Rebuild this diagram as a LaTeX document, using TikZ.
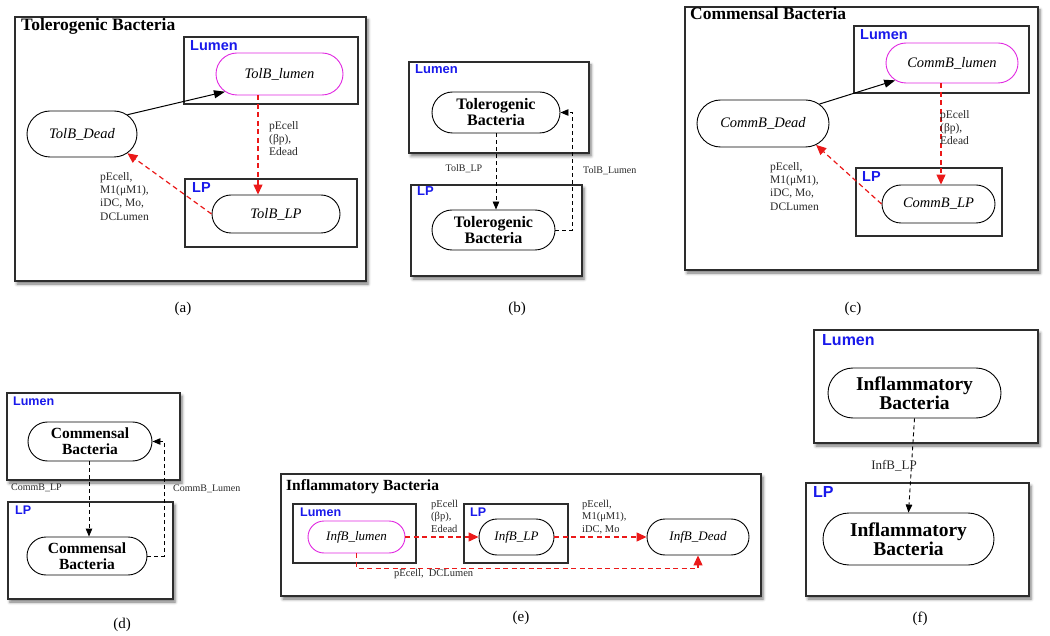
\documentclass[tikz,border=0pt]{standalone}
\usepackage{fontspec}
\setmainfont{Liberation Serif}
\newfontfamily\hsans{Liberation Sans}
\usetikzlibrary{shapes.misc,shadows.blur,arrows.meta,calc}
\definecolor{magnode}{RGB}{225,40,225}
\definecolor{redline}{RGB}{235,25,25}
\definecolor{bluelbl}{RGB}{25,25,235}
\definecolor{frameline}{RGB}{45,45,45}
\definecolor{lbltext}{RGB}{40,40,40}
\tikzset{
  panelbox/.style={draw=frameline, line width=1.4pt, fill=white,
    blur shadow={shadow xshift=2pt, shadow yshift=-3pt, shadow blur radius=3pt, shadow opacity=55}},
  inbox/.style={draw=frameline, line width=1.1pt},
  stnode/.style={draw=black, rounded rectangle, line width=0.9pt, inner sep=0pt, fill=white},
  ist/.style={stnode, font=\itshape\fontsize{#1}{#1}\selectfont},
  lumst/.style={draw=magnode},
  bst/.style n args={2}{stnode, align=center, font=\bfseries\fontsize{#1}{#2}\selectfont},
  ttl/.style={anchor=base west, inner sep=0pt, font=\bfseries\fontsize{#1}{#1}\selectfont},
  zone/.style={anchor=base west, inner sep=0pt, text=bluelbl, font=\hsans\bfseries\fontsize{#1}{#1}\selectfont},
  elab/.style n args={2}{align=left, inner sep=0pt, text=lbltext, font=\fontsize{#1}{#2}\selectfont},
  figcap/.style={inner sep=0pt, font=\fontsize{15}{15}\selectfont},
  rdash/.style={draw=redline, line width=1.2pt, dash pattern=on 5pt off 3.5pt,
    -{Triangle[length=10pt,width=9pt,fill=redline]}},
  bsolid/.style={draw=black, line width=1pt, -{Triangle[length=11pt,width=8pt]}},
  bdash/.style={draw=black, line width=0.9pt, dash pattern=on 4pt off 3pt,
    -{Triangle[length=8pt,width=6.5pt]}}
}
\begin{document}
\begin{tikzpicture}[x=1pt,y=-1pt]
\useasboundingbox (0,0) rectangle (1050,636);

% ---------------- (a) ----------------
\draw[panelbox] (15,17) rectangle (366,281);
\node[ttl=17.5] (Ta) at (21,31) {Tolerogenic Bacteria};
\draw[inbox] (184,37) rectangle (358,104);
\node[zone=14.5] (La) at (190,51) {Lumen};
\node[ist=14.5, lumst, minimum width=127pt, minimum height=42pt] (TLa) at (279.5,74) {TolB\_lumen};
\node[ist=14.5, minimum width=110pt, minimum height=46pt] (TDa) at (82,134) {TolB\_Dead};
\draw[inbox] (185,179) rectangle (357,247);
\node[zone=14.5] (LPa) at (192,193) {LP};
\node[ist=14.5, minimum width=128pt, minimum height=38pt] (TPa) at (276,214) {TolB\_LP};
\draw[bsolid] (TDa.23) -- (TLa.198);
\draw[rdash] ([xshift=-21.5pt]TLa.south) -- ([xshift=-21.5pt]TLa.south |- TPa.north);
\node[elab={11.5}{13.3}, anchor=north west] (ea1) at (269,121) {pEcell\\(βp),\\Edead};
\draw[rdash] (TPa.west) -- (TDa.-23);
\node[elab={11.5}{13.3}, anchor=north west] (ea2) at (100,172) {pEcell,\\M1(μM1),\\iDC, Mo,\\DCLumen};
\node[figcap] (ca) at (183,309) {(a)};

% ---------------- (b) ----------------
\draw[panelbox] (409,62) rectangle (589,153);
\node[zone=13] (Lb) at (415,74) {Lumen};
\node[bst={16}{16}, minimum width=128pt, minimum height=41pt] (Nb1) at (496,112.5) {Tolerogenic\\Bacteria};
\draw[panelbox] (411,185) rectangle (582,276);
\node[zone=13] (LPb) at (417,196) {LP};
\node[bst={16}{16}, minimum width=123pt, minimum height=40pt] (Nb2) at (493.5,230) {Tolerogenic\\Bacteria};
\draw[bdash] (Nb1.south) -- (Nb1.south |- Nb2.north);
\node[elab={10}{12}] (eb1) at (464,169) {TolB\_LP};
\draw[bdash] (Nb2.east) -- ($(Nb2.east)+(17,0)$) |- (Nb1.east);
\node[elab={10}{12}, anchor=west] (eb2) at (583,171) {TolB\_Lumen};
\node[figcap] (cb) at (517,309) {(b)};

% ---------------- (c) ----------------
\draw[panelbox] (685,7) rectangle (1038,270);
\node[ttl=17.5] (Tc) at (690,20) {Commensal Bacteria};
\draw[inbox] (854,26) rectangle (1029,93);
\node[zone=14.5] (Lc) at (860,40) {Lumen};
\node[ist=14.5, lumst, minimum width=132pt, minimum height=40pt] (CLc) at (952,63) {CommB\_lumen};
\node[ist=14.5, minimum width=132pt, minimum height=47pt] (CDc) at (763,123.5) {CommB\_Dead};
\draw[inbox] (856,168) rectangle (1002,236);
\node[zone=14.5] (LPc) at (862,182) {LP};
\node[ist=14.5, minimum width=113pt, minimum height=38pt] (CPc) at (938.5,204) {CommB\_LP};
\draw[bsolid] (CDc.19) -- (CLc.197);
\draw[rdash] ([xshift=-11pt]CLc.south) -- ([xshift=-11pt]CLc.south |- CPc.north);
\node[elab={11.5}{13.3}, anchor=north west] (ec1) at (940,110) {pEcell\\(βp),\\Edead};
\draw[rdash] (CPc.west) -- (CDc.-22);
\node[elab={11.5}{13.3}, anchor=north west] (ec2) at (770,162) {pEcell,\\M1(μM1),\\iDC, Mo,\\DCLumen};
\node[figcap] (cc) at (853,309) {(c)};

% ---------------- (d) ----------------
\draw[panelbox] (7,393) rectangle (180,480);
\node[zone=12.5] (Ld) at (13,405) {Lumen};
\node[bst={15.5}{15.7}, minimum width=124pt, minimum height=39pt] (Nd1) at (90,441.5) {Commensal\\Bacteria};
\draw[panelbox] (8,502) rectangle (173,599);
\node[zone=12.5] (LPd) at (15,514) {LP};
\node[bst={15.5}{15.7}, minimum width=120pt, minimum height=38pt] (Nd2) at (87,556) {Commensal\\Bacteria};
\draw[bdash] ([xshift=-1pt]Nd1.south) -- ([xshift=-1pt]Nd1.south |- Nd2.north);
\node[elab={10}{12}, anchor=west] (ed1) at (11,488) {CommB\_LP};
\draw[bdash] (Nd2.east) -- ($(Nd2.east)+(17,0)$) |- (Nd1.east);
\node[elab={10}{12}, anchor=west] (ed2) at (173,489) {CommB\_Lumen};
\node[figcap] (cd) at (122,625) {(d)};

% ---------------- (e) ----------------
\draw[panelbox] (281,474) rectangle (761,596);
\node[ttl=15.5] (Te) at (286,490) {Inflammatory Bacteria};
\draw[inbox] (293,504) rectangle (416,563);
\node[zone=12.5] (Le) at (300,516) {Lumen};
\draw[inbox] (464,504) rectangle (568,563);
\node[zone=12.5] (LPe) at (470,516) {LP};
\node[ist=13, lumst, minimum width=97pt, minimum height=32pt] (ILe) at (356.5,537) {InfB\_lumen};
\node[ist=13, minimum width=75pt, minimum height=36pt] (IPe) at (516.5,537) {InfB\_LP};
\node[ist=13, minimum width=102pt, minimum height=36pt] (IDe) at (698,537) {InfB\_Dead};
\draw[rdash] (ILe.east) -- (IPe.west);
\node[elab={10.5}{12.5}, anchor=north west] (ee1) at (431,500) {pEcell\\(βp),\\Edead};
\draw[rdash] (IPe.east) -- (IDe.west);
\node[elab={10.5}{12.5}, anchor=north west] (ee2) at (582,500) {pEcell,\\M1(μM1),\\iDC, Mo};
\draw[rdash] (ILe.south) -- ++(0,15) -| (IDe.south);
\node[elab={10.5}{12.5}, anchor=north west] (ee3) at (394,569) {pEcell,\ \ DCLumen};
\node[figcap] (ce) at (521,618) {(e)};

% ---------------- (f) ----------------
\draw[panelbox] (814,330) rectangle (1038,443);
\node[zone=16] (Lf) at (822,345) {Lumen};
\node[bst={19.5}{18.5}, minimum width=173pt, minimum height=50pt] (Nf1) at (914.5,393) {Inflammatory\\Bacteria};
\draw[panelbox] (806,483) rectangle (1029,596);
\node[zone=16] (LPf) at (813,497) {LP};
\node[bst={19.5}{18.5}, minimum width=171pt, minimum height=52pt] (Nf2) at (908.5,539) {Inflammatory\\Bacteria};
\draw[bdash] (Nf1.south) -- (Nf2.north);
\node[elab={13}{13}] (ef1) at (894,466) {InfB\_LP};
\node[figcap] (cf) at (920,619) {(f)};
\end{tikzpicture}
\end{document}
